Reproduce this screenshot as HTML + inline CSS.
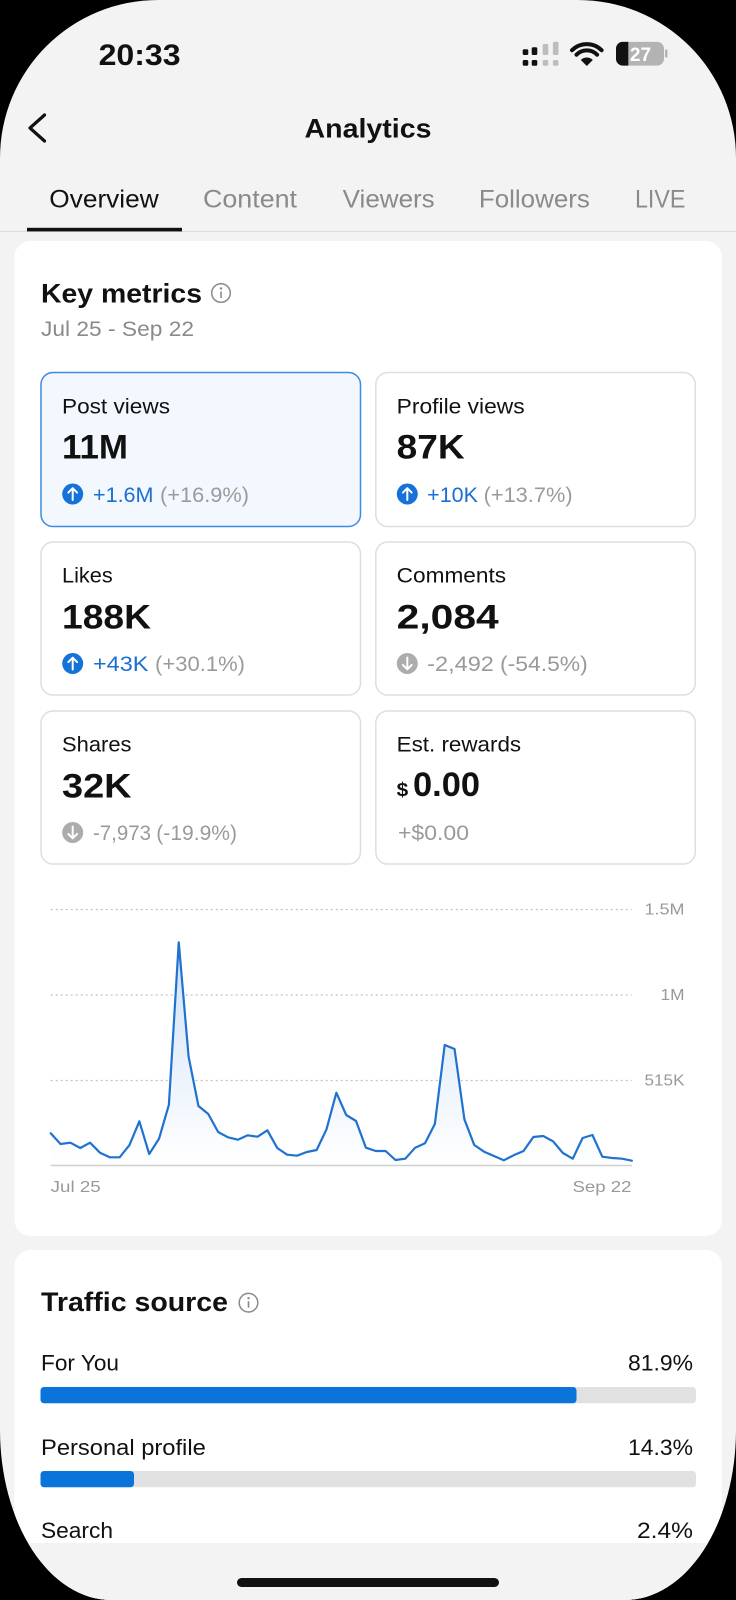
<!DOCTYPE html>
<html><head><meta charset="utf-8"><style>
html,body{margin:0;padding:0;background:#000;width:736px;height:1600px;overflow:hidden}
svg{display:block}
text{font-family:"Liberation Sans",Arial,sans-serif}
.b{font-weight:bold}
</style></head><body>
<svg width="736" height="1600" viewBox="0 0 736 1600" xmlns="http://www.w3.org/2000/svg">
<defs>
<clipPath id="scr"><path d="M158,0 H578 A158,158 0 0 1 736,158 V1430 A111,170 0 0 1 625,1600 H111 A111,170 0 0 1 0,1430 V158 A158,158 0 0 1 158,0 Z"/></clipPath>
<linearGradient id="gf" gradientUnits="userSpaceOnUse" x1="0" y1="940" x2="0" y2="1165">
<stop offset="0" stop-color="#cfe1f6"/><stop offset="1" stop-color="#ffffff"/></linearGradient>
<clipPath id="bat"><rect x="616" y="41.7" width="48" height="24" rx="7"/></clipPath>
</defs>
<g clip-path="url(#scr)">
<rect x="0" y="0" width="736" height="1600" fill="#f3f3f3"/>

<!-- status bar -->
<text x="98.6" y="65" class="b" font-size="30" fill="#111" textLength="82" lengthAdjust="spacingAndGlyphs">20:33</text>
<g>
<rect x="522.7" y="49.3" width="5.6" height="5.7" rx="1.5" fill="#111"/>
<rect x="531.7" y="47.3" width="5.6" height="7.7" rx="1.5" fill="#111"/>
<rect x="542.7" y="44" width="5.6" height="11" rx="1.5" fill="#bdbdbd"/>
<rect x="552.9" y="41.7" width="5.6" height="13.3" rx="1.5" fill="#bdbdbd"/>
<rect x="522.7" y="60" width="5.6" height="5.7" rx="1.5" fill="#111"/>
<rect x="531.7" y="60" width="5.6" height="5.7" rx="1.5" fill="#111"/>
<rect x="542.7" y="60" width="5.6" height="5.7" rx="1.5" fill="#bdbdbd"/>
<rect x="552.9" y="60" width="5.6" height="5.7" rx="1.5" fill="#bdbdbd"/>
</g>
<g fill="none" stroke="#111" stroke-width="4" stroke-linecap="round">
<path d="M572,50.2 A21,21 0 0 1 601.6,50.2"/>
<path d="M576.5,54.7 A14.5,14.5 0 0 1 597.1,54.7"/>
</g>
<path d="M586.8,66 L580.8,60 A8.5,8.5 0 0 1 592.8,60 Z" fill="#111"/>
<g clip-path="url(#bat)">
<rect x="616" y="41.7" width="48" height="24" fill="#b3b3b3"/>
<rect x="616" y="41.7" width="12.3" height="24" fill="#111"/>
</g>
<rect x="665" y="49.5" width="2.5" height="8" rx="1" fill="#b3b3b3"/>
<text x="640.5" y="61" class="b" font-size="19" fill="#fff" text-anchor="middle">27</text>

<!-- header -->
<polyline points="44.5,115 30,128 44.5,141" fill="none" stroke="#111" stroke-width="3.2" stroke-linecap="round" stroke-linejoin="round"/>
<text x="368" y="137.3" class="b" font-size="27" fill="#111" text-anchor="middle" textLength="127" lengthAdjust="spacingAndGlyphs">Analytics</text>

<!-- tabs -->
<text x="49.3" y="207.3" font-size="25" fill="#111" textLength="109.4" lengthAdjust="spacingAndGlyphs">Overview</text>
<text x="203" y="207.3" font-size="25" fill="#8a8a8a" textLength="94" lengthAdjust="spacingAndGlyphs">Content</text>
<text x="342.7" y="207.3" font-size="25" fill="#8a8a8a" textLength="92" lengthAdjust="spacingAndGlyphs">Viewers</text>
<text x="478.9" y="207.3" font-size="25" fill="#8a8a8a" textLength="111" lengthAdjust="spacingAndGlyphs">Followers</text>
<text x="635" y="207.3" font-size="25" fill="#8a8a8a" textLength="50.4" lengthAdjust="spacingAndGlyphs">LIVE</text>
<rect x="0" y="231" width="736" height="1" fill="#dcdcdc"/>
<rect x="27" y="227.8" width="155" height="3.6" fill="#111"/>

<!-- card 1 -->
<rect x="14.5" y="241" width="707.5" height="995" rx="16" fill="#fff"/>
<text x="41" y="302.7" class="b" font-size="27" fill="#111" textLength="161" lengthAdjust="spacingAndGlyphs">Key metrics</text>
<circle cx="221" cy="293" r="9.3" fill="none" stroke="#8a8a8a" stroke-width="1.5"/>
<circle cx="221" cy="288.5" r="1.2" fill="#8a8a8a"/>
<line x1="221" y1="291.5" x2="221" y2="298" stroke="#8a8a8a" stroke-width="1.6"/>
<text x="41" y="336" font-size="21" fill="#8a8a8a" textLength="153" lengthAdjust="spacingAndGlyphs">Jul 25 - Sep 22</text>

<!-- boxes -->
<rect x="41" y="372.5" width="319.5" height="154" rx="12" fill="#f3f8fe" stroke="#3d8ae0" stroke-width="1.5"/>
<rect x="375.8" y="372.5" width="319.5" height="154" rx="12" fill="#fff" stroke="#dedede" stroke-width="1.5"/>
<rect x="41" y="542" width="319.5" height="153" rx="12" fill="#fff" stroke="#dedede" stroke-width="1.5"/>
<rect x="375.8" y="542" width="319.5" height="153" rx="12" fill="#fff" stroke="#dedede" stroke-width="1.5"/>
<rect x="41" y="711" width="319.5" height="153" rx="12" fill="#fff" stroke="#dedede" stroke-width="1.5"/>
<rect x="375.8" y="711" width="319.5" height="153" rx="12" fill="#fff" stroke="#dedede" stroke-width="1.5"/>

<!-- box1 -->
<text x="62" y="413.5" font-size="21" fill="#111" textLength="108" lengthAdjust="spacingAndGlyphs">Post views</text>
<text x="62" y="458.5" class="b" font-size="34" fill="#111" textLength="66" lengthAdjust="spacingAndGlyphs">11M</text>
<circle cx="72.7" cy="494" r="10.5" fill="#1472d8"/>
<path d="M72.7,500 V488.5 M68.3,492.6 L72.7,488.2 L77.1,492.6" fill="none" stroke="#fff" stroke-width="2" stroke-linecap="round" stroke-linejoin="round"/>
<text x="93" y="502" font-size="21" fill="#1a6fd1" textLength="60.5" lengthAdjust="spacingAndGlyphs">+1.6M</text>
<text x="160" y="502" font-size="21" fill="#9a9a9a" textLength="89" lengthAdjust="spacingAndGlyphs">(+16.9%)</text>

<!-- box2 -->
<text x="396.7" y="413.5" font-size="21" fill="#111" textLength="128" lengthAdjust="spacingAndGlyphs">Profile views</text>
<text x="396.7" y="458.5" class="b" font-size="34" fill="#111" textLength="68" lengthAdjust="spacingAndGlyphs">87K</text>
<circle cx="407.3" cy="494" r="10.5" fill="#1472d8"/>
<path d="M407.3,500 V488.5 M402.9,492.6 L407.3,488.2 L411.7,492.6" fill="none" stroke="#fff" stroke-width="2" stroke-linecap="round" stroke-linejoin="round"/>
<text x="427.2" y="502" font-size="21" fill="#1a6fd1" textLength="50.7" lengthAdjust="spacingAndGlyphs">+10K</text>
<text x="483.6" y="502" font-size="21" fill="#9a9a9a" textLength="89" lengthAdjust="spacingAndGlyphs">(+13.7%)</text>

<!-- box3 -->
<text x="62" y="582.7" font-size="21" fill="#111" textLength="50.7" lengthAdjust="spacingAndGlyphs">Likes</text>
<text x="62" y="628.3" class="b" font-size="34" fill="#111" textLength="89" lengthAdjust="spacingAndGlyphs">188K</text>
<circle cx="72.7" cy="663.5" r="10.5" fill="#1472d8"/>
<path d="M72.7,669.5 V658 M68.3,662.1 L72.7,657.7 L77.1,662.1" fill="none" stroke="#fff" stroke-width="2" stroke-linecap="round" stroke-linejoin="round"/>
<text x="93" y="671" font-size="21" fill="#1a6fd1" textLength="55.4" lengthAdjust="spacingAndGlyphs">+43K</text>
<text x="155" y="671" font-size="21" fill="#9a9a9a" textLength="90" lengthAdjust="spacingAndGlyphs">(+30.1%)</text>

<!-- box4 -->
<text x="396.7" y="582.7" font-size="21" fill="#111" textLength="109.4" lengthAdjust="spacingAndGlyphs">Comments</text>
<text x="396.7" y="628.3" class="b" font-size="34" fill="#111" textLength="102" lengthAdjust="spacingAndGlyphs">2,084</text>
<circle cx="407.3" cy="663.5" r="10.5" fill="#acacac"/>
<path d="M407.3,657.5 V669 M402.9,664.9 L407.3,669.3 L411.7,664.9" fill="none" stroke="#fff" stroke-width="2" stroke-linecap="round" stroke-linejoin="round"/>
<text x="427.2" y="671" font-size="21" fill="#9a9a9a" textLength="66.7" lengthAdjust="spacingAndGlyphs">-2,492</text>
<text x="500" y="671" font-size="21" fill="#9a9a9a" textLength="87.8" lengthAdjust="spacingAndGlyphs">(-54.5%)</text>

<!-- box5 -->
<text x="62" y="751.7" font-size="21" fill="#111" textLength="69.5" lengthAdjust="spacingAndGlyphs">Shares</text>
<text x="62" y="797.3" class="b" font-size="34" fill="#111" textLength="69.5" lengthAdjust="spacingAndGlyphs">32K</text>
<circle cx="72.7" cy="832.5" r="10.5" fill="#acacac"/>
<path d="M72.7,826.5 V838 M68.3,833.9 L72.7,838.3 L77.1,833.9" fill="none" stroke="#fff" stroke-width="2" stroke-linecap="round" stroke-linejoin="round"/>
<text x="93" y="840" font-size="21" fill="#9a9a9a" textLength="58" lengthAdjust="spacingAndGlyphs">-7,973</text>
<text x="156.3" y="840" font-size="21" fill="#9a9a9a" textLength="80.7" lengthAdjust="spacingAndGlyphs">(-19.9%)</text>

<!-- box6 -->
<text x="396.7" y="751.7" font-size="21" fill="#111" textLength="124.4" lengthAdjust="spacingAndGlyphs">Est. rewards</text>
<text x="396.7" y="796" class="b" font-size="19" fill="#111" textLength="11.6" lengthAdjust="spacingAndGlyphs">$</text>
<text x="413" y="796" class="b" font-size="34" fill="#111" textLength="67" lengthAdjust="spacingAndGlyphs">0.00</text>
<text x="398" y="840" font-size="21" fill="#9a9a9a" textLength="71" lengthAdjust="spacingAndGlyphs">+$0.00</text>

<!-- chart -->
<g stroke="#c2c2c2" stroke-width="1.2" stroke-dasharray="2 3">
<line x1="50.7" y1="909.5" x2="631.5" y2="909.5"/>
<line x1="50.7" y1="995" x2="631.5" y2="995"/>
<line x1="50.7" y1="1080.5" x2="631.5" y2="1080.5"/>
</g>
<g font-size="16" fill="#999" text-anchor="end">
<text x="684.5" y="914.5" textLength="40" lengthAdjust="spacingAndGlyphs">1.5M</text>
<text x="684.5" y="1000" textLength="24" lengthAdjust="spacingAndGlyphs">1M</text>
<text x="684.5" y="1085.5" textLength="40" lengthAdjust="spacingAndGlyphs">515K</text>
</g>
<polygon fill="url(#gf)" points="50.7,1165 50.7,1133.3 60.55,1144 70.4,1142.7 80.25,1148 90.1,1142.7 99.95,1152.7 109.8,1157.3 119.65,1157.3 129.5,1145 139.35,1121.3 149.2,1154 159.05,1138.7 168.9,1104.7 178.75,942.3 188.6,1056.7 198.45,1106 208.3,1114 218.15,1132 228,1137.3 237.85,1139.7 247.7,1135.3 257.55,1136.7 267.4,1130.3 277.25,1148 287.1,1154.7 296.95,1155.7 306.8,1152 316.65,1150 326.5,1129.3 336.35,1092.7 346.2,1115 356.05,1121 365.9,1147.7 375.75,1151 385.6,1151 395.45,1160 405.3,1158.7 415.15,1147.7 425,1143.3 434.85,1124 444.7,1045 454.55,1049 464.4,1119.3 474.25,1145 484.1,1151.7 493.95,1156 503.8,1160.3 513.65,1155.3 523.5,1151 533.35,1137 543.2,1136 553.05,1141.3 562.9,1153 572.75,1158.7 582.6,1138 592.45,1135 602.3,1156.7 612.15,1158 622,1158.7 631.85,1160.7 631.85,1165"/>
<line x1="50.7" y1="1165.5" x2="631.8" y2="1165.5" stroke="#cfcfcf" stroke-width="1.5"/>
<polyline fill="none" stroke="#1f72cf" stroke-width="2.2" stroke-linejoin="round" stroke-linecap="round" points="50.7,1133.3 60.55,1144 70.4,1142.7 80.25,1148 90.1,1142.7 99.95,1152.7 109.8,1157.3 119.65,1157.3 129.5,1145 139.35,1121.3 149.2,1154 159.05,1138.7 168.9,1104.7 178.75,942.3 188.6,1056.7 198.45,1106 208.3,1114 218.15,1132 228,1137.3 237.85,1139.7 247.7,1135.3 257.55,1136.7 267.4,1130.3 277.25,1148 287.1,1154.7 296.95,1155.7 306.8,1152 316.65,1150 326.5,1129.3 336.35,1092.7 346.2,1115 356.05,1121 365.9,1147.7 375.75,1151 385.6,1151 395.45,1160 405.3,1158.7 415.15,1147.7 425,1143.3 434.85,1124 444.7,1045 454.55,1049 464.4,1119.3 474.25,1145 484.1,1151.7 493.95,1156 503.8,1160.3 513.65,1155.3 523.5,1151 533.35,1137 543.2,1136 553.05,1141.3 562.9,1153 572.75,1158.7 582.6,1138 592.45,1135 602.3,1156.7 612.15,1158 622,1158.7 631.85,1160.7"/>
<text x="50.7" y="1192" font-size="16" fill="#999" textLength="50" lengthAdjust="spacingAndGlyphs">Jul 25</text>
<text x="631.5" y="1192" font-size="16" fill="#999" text-anchor="end" textLength="59" lengthAdjust="spacingAndGlyphs">Sep 22</text>

<!-- card 2 -->
<rect x="14.5" y="1250" width="707.5" height="400" rx="16" fill="#fff"/>
<text x="41" y="1311" class="b" font-size="27" fill="#111" textLength="187" lengthAdjust="spacingAndGlyphs">Traffic source</text>
<circle cx="248.5" cy="1302.7" r="9.3" fill="none" stroke="#8a8a8a" stroke-width="1.5"/>
<circle cx="248.5" cy="1298.2" r="1.2" fill="#8a8a8a"/>
<line x1="248.5" y1="1301.2" x2="248.5" y2="1307.7" stroke="#8a8a8a" stroke-width="1.6"/>

<text x="41" y="1370.7" font-size="22" fill="#111" textLength="78" lengthAdjust="spacingAndGlyphs">For You</text>
<text x="693" y="1370.7" font-size="22" fill="#111" text-anchor="end" textLength="65" lengthAdjust="spacingAndGlyphs">81.9%</text>
<rect x="40.5" y="1387" width="655.5" height="16.3" rx="3.5" fill="#e1e1e1"/>
<rect x="40.5" y="1387" width="536" height="16.3" rx="3.5" fill="#0a74da"/>

<text x="41" y="1455" font-size="22" fill="#111" textLength="164.8" lengthAdjust="spacingAndGlyphs">Personal profile</text>
<text x="693" y="1455" font-size="22" fill="#111" text-anchor="end" textLength="65" lengthAdjust="spacingAndGlyphs">14.3%</text>
<rect x="40.5" y="1471" width="655.5" height="16.3" rx="3.5" fill="#e1e1e1"/>
<rect x="40.5" y="1471" width="93.5" height="16.3" rx="3.5" fill="#0a74da"/>

<text x="41" y="1538" font-size="22" fill="#111" textLength="72" lengthAdjust="spacingAndGlyphs">Search</text>
<text x="693" y="1538" font-size="22" fill="#111" text-anchor="end" textLength="56" lengthAdjust="spacingAndGlyphs">2.4%</text>

<!-- bottom -->
<rect x="0" y="1543" width="736" height="57" fill="#f3f3f3"/>
<rect x="237" y="1578" width="262" height="9" rx="4.5" fill="#111"/>
</g>
</svg>
</body></html>
